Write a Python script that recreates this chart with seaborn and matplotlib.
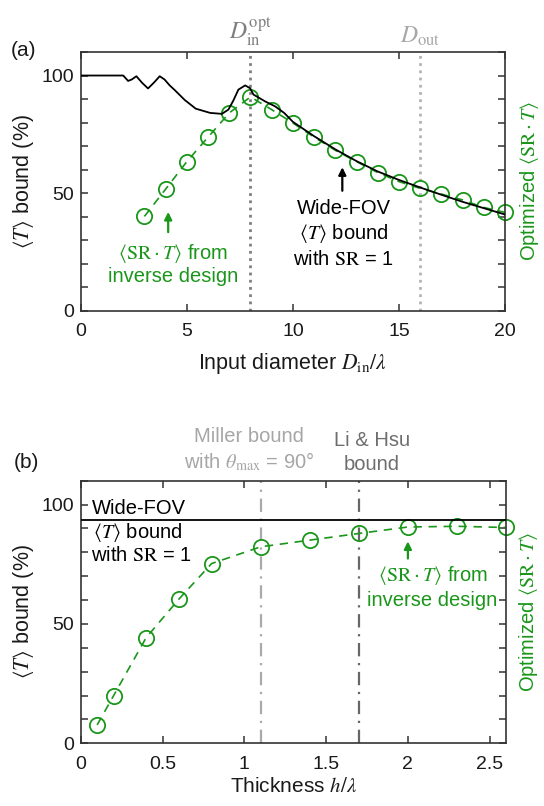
import matplotlib
matplotlib.use("Agg")
import matplotlib.pyplot as plt
import numpy as np
import pandas as pd
import seaborn as sns

# ---------------- data ----------------
# Panel (a): wide-FOV bound vs input diameter
bound_a_x = [0, 2.0, 2.12, 2.23, 2.4, 2.62, 2.9, 3.17, 3.45, 3.72, 3.95, 4.19, 4.43, 4.9,
             5.42, 6.1, 6.65, 6.96, 7.2, 7.43, 7.75, 7.98, 8.14, 8.69, 9.16, 9.6, 10, 11,
             12, 13, 14, 15, 16, 17, 18, 19, 20]
bound_a_y = [100, 100, 98.8, 97.7, 98.3, 99.7, 96.8, 94.5, 97.0, 99.7, 98.3, 95.8, 93.8,
             89.6, 85.9, 84.1, 83.7, 85.5, 89.5, 94.0, 95.8, 94.6, 91.9, 89.0, 86.9, 84.0,
             80.3, 74.2, 68.6, 63.6, 59.2, 55.6, 52.4, 49.3, 46.3, 43.6, 40.9]
opt_a_x = [3, 4, 5, 6, 7, 8, 9, 10, 11, 12, 13, 14, 15, 16, 17, 18, 19, 20]
opt_a_y = [40.1, 51.7, 63.4, 73.8, 84.1, 90.9, 85.5, 79.8, 73.8, 68.2, 63.4, 58.7,
           54.9, 52.0, 49.6, 47.1, 43.9, 41.8]
D_in_opt = 8
D_out = 16

# Panel (b): vs thickness
thick_x = [0.1, 0.2, 0.4, 0.6, 0.8, 1.1, 1.4, 1.7, 2.0, 2.3, 2.6]
opt_b_y = [7.7, 19.9, 44.3, 60.4, 75.3, 82.3, 85.1, 87.9, 90.6, 90.9, 90.4]
bound_b_x = [0, 2.6]
bound_b_y = [93.7, 93.7]
miller_h = 1.1
lihsu_h = 1.7

xticks_a = [0, 5, 10, 15, 20]
xticks_b = [0, 0.5, 1, 1.5, 2, 2.5]
xtick_labels_b = ["0", "0.5", "1", "1.5", "2", "2.5"]
ytick_labels = ["0", "", "", "", "", "50", "", "", "", "", "100", ""]

# ---------------- style ----------------
sns.set_theme(style="ticks")
plt.rcParams["font.family"] = ["Liberation Sans", "DejaVu Sans"]
plt.rcParams["mathtext.fontset"] = "stix"
plt.rcParams["axes.edgecolor"] = "#333333"
plt.rcParams["axes.linewidth"] = 1.2

GREEN = "#1a961a"
SPINE = "#333333"
TICK_FS = 14
LAB_FS = 15.5
TXT_FS = 14.5

fig = plt.figure(figsize=(5.44, 8.06), dpi=100)
W, H = 544, 806


def axes_px(left, top, right, bottom):
    return fig.add_axes([left / W, 1 - bottom / H, (right - left) / W, (bottom - top) / H])


def style_axes(ax):
    ax.tick_params(direction="in", top=True, right=True, length=5, width=1.1,
                   color=SPINE, labelsize=TICK_FS, labelcolor="#1a1a1a")
    ax.tick_params(axis="x", pad=9)
    ax.tick_params(axis="y", pad=5)
    for s in ax.spines.values():
        s.set_color(SPINE)
        s.set_linewidth(1.2)


# ================= panel (a) =================
ax = axes_px(80.8, 52, 505, 310.7)
ax.set_xlim(0, 20)
ax.set_ylim(0, 110)

ax.axvline(D_in_opt, color="#7f7f7f", lw=2, ls=(0, (1, 1.6)), zorder=1)
ax.axvline(D_out, color="#b3b3b3", lw=2, ls=(0, (1, 1.6)), zorder=1)

df_ba = pd.DataFrame({"x": bound_a_x, "y": bound_a_y})
sns.lineplot(data=df_ba, x="x", y="y", ax=ax, color="black", lw=1.3,
             estimator=None, sort=False, zorder=3)
df_oa = pd.DataFrame({"x": opt_a_x, "y": opt_a_y})
sns.lineplot(data=df_oa, x="x", y="y", ax=ax, color=GREEN, lw=1.2,
             linestyle=(0, (5, 4)), marker="o", markersize=11, markerfacecolor="none",
             markeredgecolor=GREEN, markeredgewidth=1.3, estimator=None, zorder=2,
             clip_on=False)

ax.set_xticks(xticks_a)
ax.set_yticks(np.arange(0, 111, 10))
ax.set_yticklabels(ytick_labels)
style_axes(ax)
ax.set_xlabel(r"Input diameter $D_{\mathrm{in}}/\lambda$", fontsize=LAB_FS, labelpad=8,
              color="#1a1a1a")
ax.set_ylabel(r"$\langle T\rangle$ bound (%)", fontsize=LAB_FS, labelpad=4, color="#1a1a1a")
ax.text(1.057, 0.5, r"Optimized $\langle \mathrm{SR}\cdot T\rangle$", transform=ax.transAxes,
        rotation=90, ha="center", va="center", fontsize=14.5, color=GREEN)

ax.text(D_in_opt, 111.5, r"$D_{\mathrm{in}}^{\mathrm{opt}}$", ha="center", va="bottom",
        fontsize=17, color="#7f7f7f")
ax.text(D_out, 111.5, r"$D_{\mathrm{out}}$", ha="center", va="bottom",
        fontsize=17, color="#a8a8a8")

ax.annotate("", xy=(12.33, 61.0), xytext=(12.33, 51.0),
            arrowprops=dict(arrowstyle="-|>", color="black", lw=1.6, mutation_scale=11,
                            shrinkA=0, shrinkB=0))
ax.text(12.4, 43.6, "Wide-FOV", ha="center", va="center", fontsize=TXT_FS, color="black")
ax.text(12.4, 32.7, r"$\langle T\rangle$ bound", ha="center", va="center", fontsize=TXT_FS,
        color="black")
ax.text(12.4, 21.7, r"with $\mathrm{SR}$ = 1", ha="center", va="center", fontsize=TXT_FS,
        color="black")

ax.annotate("", xy=(4.12, 42.0), xytext=(4.12, 33.4),
            arrowprops=dict(arrowstyle="-|>", color=GREEN, lw=1.6, mutation_scale=11,
                            shrinkA=0, shrinkB=0))
ax.text(4.36, 24.5, r"$\langle \mathrm{SR}\cdot T\rangle$ from", ha="center", va="center",
        fontsize=TXT_FS, color=GREEN)
ax.text(4.36, 14.4, "inverse design", ha="center", va="center", fontsize=TXT_FS, color=GREEN)

fig.text(24 / W, 1 - 50 / H, "(a)", ha="center", va="center", fontsize=15, color="#1a1a1a")

# ================= panel (b) =================
bx = axes_px(80.8, 480.7, 506, 743.3)
bx.set_xlim(0, 2.6)
bx.set_ylim(0, 110)

bx.axvline(miller_h, color="#aaaaaa", lw=1.6, ls=(0, (6, 3, 1, 3)), zorder=1)
bx.axvline(lihsu_h, color="#666666", lw=1.6, ls=(0, (6, 3, 1, 3)), zorder=1)

df_bb = pd.DataFrame({"x": bound_b_x, "y": bound_b_y})
sns.lineplot(data=df_bb, x="x", y="y", ax=bx, color="black", lw=1.3, estimator=None, zorder=3)
df_ob = pd.DataFrame({"x": thick_x, "y": opt_b_y})
sns.lineplot(data=df_ob, x="x", y="y", ax=bx, color=GREEN, lw=1.2,
             linestyle=(0, (5, 4)), marker="o", markersize=11, markerfacecolor="none",
             markeredgecolor=GREEN, markeredgewidth=1.3, estimator=None, zorder=2,
             clip_on=False)

bx.set_xticks(xticks_b)
bx.set_xticklabels(xtick_labels_b)
bx.set_yticks(np.arange(0, 111, 10))
bx.set_yticklabels(ytick_labels)
style_axes(bx)
bx.set_xlabel(r"Thickness $h/\lambda$", fontsize=15, labelpad=3, color="#1a1a1a")
bx.set_ylabel(r"$\langle T\rangle$ bound (%)", fontsize=LAB_FS, labelpad=4, color="#1a1a1a")
bx.text(1.054, 0.5, r"Optimized $\langle \mathrm{SR}\cdot T\rangle$", transform=bx.transAxes,
        rotation=90, ha="center", va="center", fontsize=14.5, color=GREEN)

bx.text(0.067, 98.3, "Wide-FOV", ha="left", va="center", fontsize=TXT_FS, color="black")
bx.text(0.075, 88.3, r"$\langle T\rangle$ bound", ha="left", va="center", fontsize=TXT_FS,
        color="black")
bx.text(0.06, 78.5, r"with $\mathrm{SR}$ = 1", ha="left", va="center", fontsize=TXT_FS,
        color="black")

bx.annotate("", xy=(2.0, 84.6), xytext=(2.0, 77.4),
            arrowprops=dict(arrowstyle="-|>", color=GREEN, lw=1.6, mutation_scale=11,
                            shrinkA=0, shrinkB=0))
bx.text(2.155, 70.1, r"$\langle \mathrm{SR}\cdot T\rangle$ from", ha="center", va="center",
        fontsize=TXT_FS, color=GREEN)
bx.text(2.15, 59.7, "inverse design", ha="center", va="center", fontsize=TXT_FS, color=GREEN)

# labels above panel (b)
fig.text(249 / W, 1 - 437 / H, "Miller bound", ha="center", va="center", fontsize=TXT_FS,
         color="#a6a6a6")
fig.text(249 / W, 1 - 462 / H, r"with $\theta_{\mathrm{max}}$ = 90°", ha="center", va="center",
         fontsize=TXT_FS, color="#a6a6a6")
fig.text(372 / W, 1 - 440 / H, "Li & Hsu", ha="center", va="center", fontsize=TXT_FS,
         color="#6e6e6e")
fig.text(372 / W, 1 - 465 / H, "bound", ha="center", va="center", fontsize=TXT_FS,
         color="#6e6e6e")

fig.text(26 / W, 1 - 462 / H, "(b)", ha="center", va="center", fontsize=15, color="#1a1a1a")

fig.savefig("out.png", dpi=100)
